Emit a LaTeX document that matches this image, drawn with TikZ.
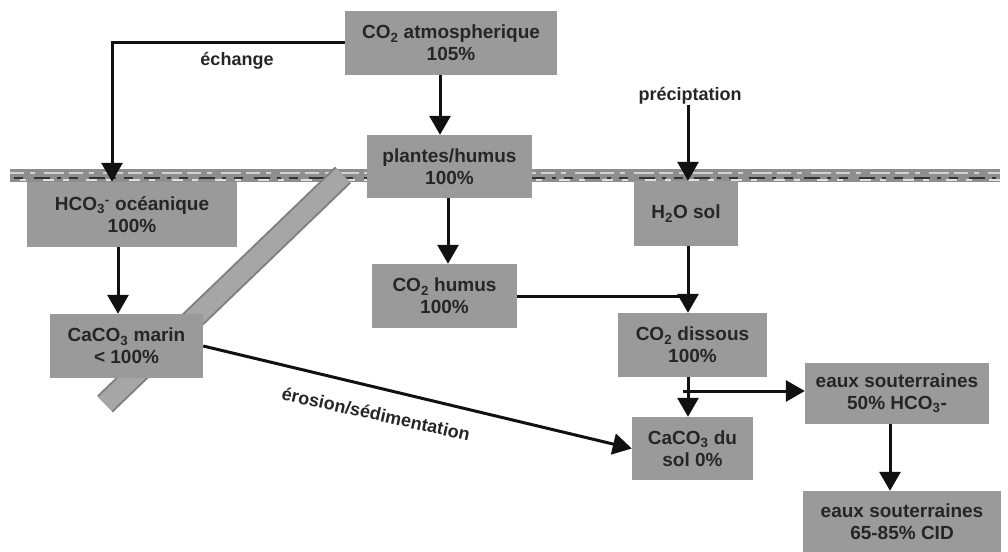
\documentclass[tikz,border=0pt]{standalone}
\usepackage{fontspec}
\setmainfont{Liberation Sans}
\usetikzlibrary{arrows.meta}
\definecolor{boxgray}{HTML}{9A9A9A}
\definecolor{txt}{HTML}{262626}
\definecolor{bandgray}{HTML}{A6A6A6}
\definecolor{bandedge}{HTML}{808080}
\definecolor{ground}{HTML}{8E8E8E}
\definecolor{ink}{HTML}{111111}
\begin{document}
\begin{tikzpicture}[x=1pt,y=-1pt,
  box/.style={fill=boxgray, text=txt, font=\fontsize{19}{22}\selectfont\bfseries, align=center, inner sep=0pt},
  lbl/.style={text=txt, font=\fontsize{18}{20}\selectfont\bfseries, inner sep=0pt},
  conn/.style={draw=ink, line width=3pt},
  arr/.style={conn, -{Triangle[length=19pt,width=21pt]}}]
\useasboundingbox (0,0) rectangle (1008,551);
% ground band
\fill[ground] (10,169) rectangle (1000,182);
\draw[gray!35, line width=2pt, dash pattern=on 14pt off 6pt on 5pt off 9pt on 20pt off 5pt] (10,172.5) -- (1000,172.5);
\draw[gray!40!black, line width=2pt, dash pattern=on 9pt off 11pt on 16pt off 7pt on 4pt off 8pt] (14,177.5) -- (1000,177.5);
\draw[gray!25, line width=1.5pt, dash pattern=on 6pt off 17pt on 11pt off 9pt] (20,180) -- (1000,180);
% diagonal band
\coordinate (dtop) at (343,175);
\coordinate (dbot) at (105,404);
\draw[bandedge, line width=23pt] (dtop) -- (dbot);
\draw[bandgray, line width=19pt] (dtop) -- (dbot);
% boxes
\node[box, minimum width=212pt, minimum height=64pt] (atm) at (451,43) {CO\textsubscript{2} atmospherique\\105\%};
\node[box, minimum width=210pt, minimum height=65pt] (hco3) at (132,214.5) {HCO\textsubscript{3}\textsuperscript{-} océanique\\100\%};
\node[box, minimum width=165pt, minimum height=63pt] (plantes) at (449.5,166.5) {plantes/humus\\100\%};
\node[box, minimum width=104pt, minimum height=65pt] (h2o) at (686,213.5) {H\textsubscript{2}O sol};
\node[box, minimum width=145pt, minimum height=64pt] (humus) at (444.5,296) {CO\textsubscript{2} humus\\100\%};
\node[box, minimum width=149pt, minimum height=64pt] (dissous) at (692.5,345) {CO\textsubscript{2} dissous\\100\%};
\node[box, minimum width=121pt, minimum height=63pt] (casol) at (692.5,448.5) {CaCO\textsubscript{3} du\\sol 0\%};
\node[box, minimum width=184pt, minimum height=61pt] (eaux1) at (897,393.5) {eaux souterraines\\50\% HCO\textsubscript{3}-};
\node[box, minimum width=198pt, minimum height=62pt] (eaux2) at (902,522) {eaux souterraines\\65-85\% CID};
\node[box, minimum width=153pt, minimum height=64pt] (marin) at (126.5,346) {CaCO\textsubscript{3} marin\\< 100\%};
% labels
\node[lbl] (echange) at (237,61) {échange};
\node[lbl] (precip) at (690,96) {préciptation};
\node[lbl, rotate=-12.5] (erosion) at (376,414) {érosion/sédimentation};
% x-positions of vertical connectors
\coordinate (xa) at (112,0);
\coordinate (xb) at (440,0);
\coordinate (xc) at (448,0);
\coordinate (xd) at (118,0);
\coordinate (xe) at (688,0);
\coordinate (xf) at (890,0);
% connectors
\draw[arr] (atm.west) -| (hco3.north -| xa);
\draw[arr] (atm.south -| xb) -- (plantes.north -| xb);
\draw[arr] (plantes.south -| xc) -- (humus.north -| xc);
\draw[arr] (hco3.south -| xd) -- (marin.north -| xd);
\draw[arr] (precip.south -| xe) -- (h2o.north -| xe);
\draw[arr] (h2o.south -| xe) -- (dissous.north -| xe);
\coordinate (join) at (humus.east -| xe);
\draw[conn] (humus.east) -- (join);
\draw[arr] (dissous.south -| xe) -- (casol.north -| xe);
\coordinate (split) at (683,391);
\draw[arr] (split) -- (split -| eaux1.west);
\draw[arr] (eaux1.south -| xf) -- (eaux2.north -| xf);
\draw[arr] (marin.east) -- (casol.west);
\end{tikzpicture}
\end{document}
